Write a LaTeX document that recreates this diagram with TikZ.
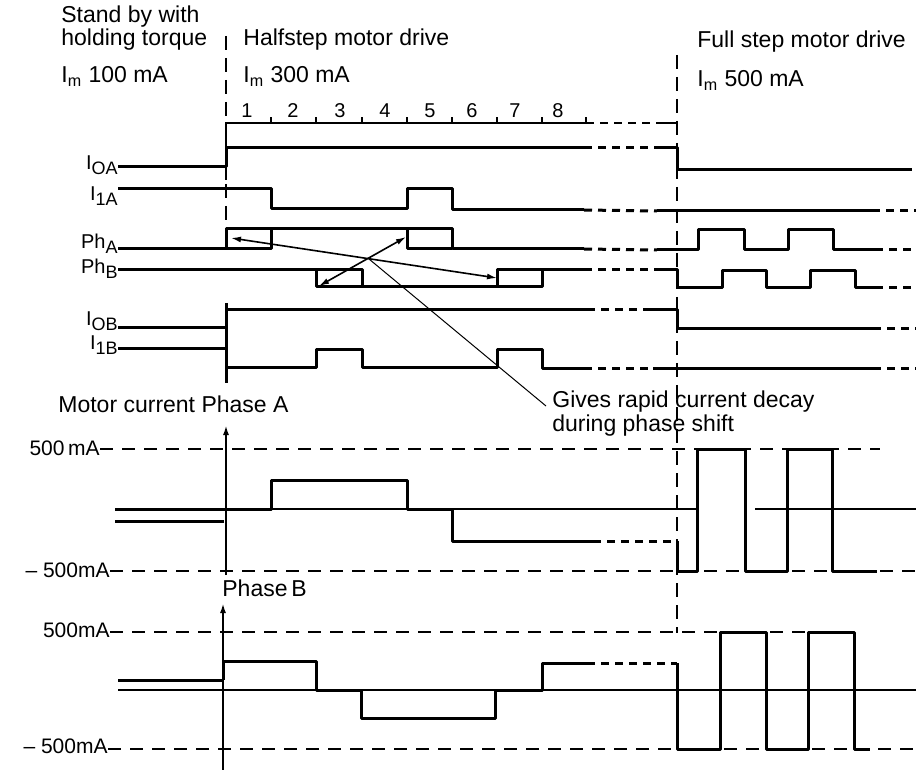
\documentclass[tikz,border=0pt]{standalone}
\usepackage{fontspec}
\setmainfont{Liberation Sans}
\usepackage{tikz}
\usetikzlibrary{arrows.meta}

\newcommand{\sigsub}[1]{\raisebox{-2.5pt}{\fontsize{9}{9}\selectfont #1}}

\begin{document}
\begin{tikzpicture}[x=0.5pt, y=-0.5pt,
    sig/.style={line width=1.5pt, line join=round},
    sigdash/.style={line width=1.5pt, dash pattern=on 4pt off 3pt},
    zero/.style={line width=0.7pt},
    guide/.style={line width=0.8pt, dash pattern=on 7pt off 4pt},
    level/.style={line width=0.9pt, dash pattern=on 6.5pt off 4.5pt},
    axis/.style={line width=1pt, -{Latex[length=5pt, width=3pt]}},
    decayarrow/.style={line width=0.8pt, {Latex[length=5pt, width=3pt]}-{Latex[length=5pt, width=3pt]}},
    head/.style={font=\fontsize{11.5}{11.5}\selectfont, inner sep=0pt, anchor=base west},
    siglabel/.style={font=\fontsize{10}{10}\selectfont, inner sep=0pt, anchor=base east},
    levellabel/.style={font=\fontsize{10.5}{10.5}\selectfont, inner sep=0pt, anchor=base east},
    stepnum/.style={font=\fontsize{10}{10}\selectfont, inner sep=0pt, anchor=base}]
    \useasboundingbox (0,0) rectangle (916,770);

    % Header
    \node[head] (standby1) at (61,23) {Stand by with};
    \node[head] (standby2) at (61,46) {holding torque};
    \node[head] (imstandby) at (61,83) {I\textsubscript{m} 100 mA};
    \node[head] (half) at (243,46) {Halfstep motor drive};
    \node[head] (imhalf) at (243,83) {I\textsubscript{m} 300 mA};
    \node[head] (full) at (697,48) {Full step motor drive};
    \node[head] (imfull) at (697,87) {I\textsubscript{m} 500 mA};

    % Step ruler
    \draw[line width=0.8pt] (226,180) -- (226,123) -- (586,123);
    \draw[line width=0.8pt, dash pattern=on 4pt off 3pt] (586,123) -- (657,123);
    \draw[line width=1.2pt] (657,123) -- (677,123);
    \foreach \t in {271,316,362,407,452,497,542,586}
        \draw[line width=0.8pt] (\t,123) -- (\t,117);
    \foreach \x/\n in {247/1,293/2,340/3,385/4,430/5,472/6,515/7,558/8}
        \node[stepnum] (step\n) at (\x,118) {\n};

    % Guide lines
    \draw[guide] (226,36) -- (226,121);
    \draw[guide] (226,184) -- (226,227);
    \draw[guide] (677,55) -- (677,633);

    % Signal labels
    \node[siglabel] (lIOA) at (118,170) {I\sigsub{OA}};
    \node[siglabel] (lI1A) at (118,201) {I\sigsub{1A}};
    \node[siglabel] (lPhA) at (118,249) {Ph\sigsub{A}};
    \node[siglabel] (lPhB) at (118,274) {Ph\sigsub{B}};
    \node[siglabel] (lIOB) at (118,326) {I\sigsub{OB}};
    \node[siglabel] (lI1B) at (118,350) {I\sigsub{1B}};

    % I0A
    \draw[sig] (118,167) -- (226,167) -- (226,148) -- (584,148);
    \draw[sigdash] (584,148) -- (657,148);
    \draw[sig] (657,148) -- (677,148) -- (677,170) -- (912,170);
    % I1A
    \draw[sig] (118,189) -- (271,189) -- (271,209) -- (407,209) -- (407,189) -- (452,189) -- (452,210) -- (584,210);
    \draw[sigdash] (584,210) -- (657,211);
    \draw[sig] (657,211) -- (872,211);
    \draw[sigdash] (872,211) -- (916,211);
    % PhA
    \draw[sig] (118,249) -- (271,249) -- (271,229);
    \draw[sig] (226,249) -- (226,229) -- (452,229) -- (452,249) -- (584,249);
    \draw[sig] (407,229) -- (407,249) -- (452,249);
    \draw[sigdash] (584,249) -- (657,250);
    \draw[sig] (657,250) -- (698,250) -- (698,230) -- (744,230) -- (744,250) -- (788,250) -- (788,230) -- (833,230) -- (833,250) -- (875,250);
    \draw[sigdash] (875,250) -- (916,250);
    % PhB
    \draw[sig] (118,270) -- (362,270) -- (362,287);
    \draw[sig] (316,270) -- (316,287) -- (542,287) -- (542,270) -- (584,270);
    \draw[sig] (497,287) -- (497,270) -- (542,270);
    \draw[sigdash] (584,270) -- (657,270);
    \draw[sig] (657,270) -- (677,270) -- (677,288) -- (722,288) -- (722,271) -- (766,271) -- (766,288) -- (810,288) -- (810,271) -- (855,271) -- (855,288) -- (875,288);
    \draw[sigdash] (875,288) -- (916,288);
    % I0B
    \draw[sig] (226,303) -- (226,383);
    \draw[sig] (118,328) -- (226,328) -- (226,310) -- (587,310);
    \draw[sigdash] (587,310) -- (645,310);
    \draw[sig] (645,310) -- (677,310) -- (677,329) -- (873,329);
    \draw[sigdash] (873,329) -- (916,329);
    % I1B
    \draw[sig] (118,349) -- (226,349) -- (226,368) -- (316,368) -- (316,350) -- (362,350) -- (362,368) -- (497,368) -- (497,350) -- (542,350) -- (542,369) -- (584,369);
    \draw[sigdash] (584,369) -- (653,369);
    \draw[sig] (653,369) -- (873,369);
    \draw[sigdash] (873,369) -- (916,369);

    % Phase shift arrows and note
    \coordinate (pa1) at (231,238);
    \coordinate (pb2) at (497,278);
    \coordinate (pb1) at (319,286);
    \coordinate (pa2) at (406,237);
    \coordinate (cross) at (369,259);
    \coordinate (leadend) at (546,406);
    \draw[decayarrow] (pa1) -- (pb2);
    \draw[decayarrow] (pb1) -- (pa2);
    \node[head] (note1) at (552,408) {Gives rapid current decay};
    \node[head] (note2) at (552,431) {during phase shift};
    \draw[line width=0.5pt] (cross) -- (leadend);

    % Motor current phase A
    \node[head] (curA) at (58,413) {Motor current Phase A};
    \node[levellabel] (Aplus) at (100,455) {500\,mA};
    \node[levellabel] (Aminus) at (110,577) {-- 500mA};
    \draw[level] (Aplus.east |- 0,449) -- (880,449);
    \draw[level] (Aminus.east |- 0,571) -- (916,571);
    \draw[axis] (226,575) -- (226,425);
    \draw[sig] (115,509) -- (226,509);
    \draw[sig] (115,521) -- (224,521);
    \draw[zero] (226,509) -- (697,509);
    \draw[zero] (755,509) -- (916,509);
    \draw[sig] (226,509) -- (271,509) -- (271,480) -- (407,480) -- (407,509) -- (452,509) -- (452,541) -- (593,541);
    \draw[sigdash] (593,541) -- (677,541);
    \draw[sig] (677,541) -- (677,571) -- (697,571) -- (697,449) -- (745,449) -- (745,571) -- (787,571) -- (787,449) -- (832,449) -- (832,571) -- (877,571);

    % Motor current phase B
    \node[head] (curB) at (222,596) {Phase\,B};
    \node[levellabel] (Bplus) at (110,637) {500mA};
    \node[levellabel] (Bminus) at (108,753) {-- 500mA};
    \draw[level] (Bplus.east |- 0,632) -- (854,632);
    \draw[level] (Bminus.east |- 0,749) -- (916,749);
    \draw[axis] (223,770) -- (223,603);
    \draw[sig] (118,680) -- (223,680);
    \draw[zero] (118,690) -- (916,690);
    \draw[sig] (223,680) -- (223,661) -- (316,661) -- (316,690) -- (361,690) -- (361,718) -- (495,718) -- (495,690) -- (542,690) -- (542,663) -- (587,663);
    \draw[sigdash] (587,663) -- (677,663);
    \draw[sig] (677,663) -- (677,749) -- (720,749) -- (720,632) -- (766,632) -- (766,749) -- (808,749) -- (808,632) -- (854,632) -- (854,749) -- (870,749);

\end{tikzpicture}
\end{document}
